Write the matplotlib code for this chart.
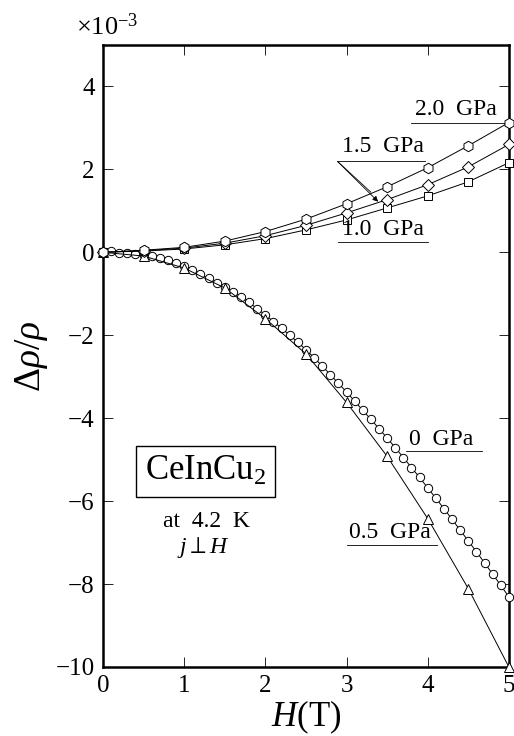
import matplotlib
matplotlib.use("Agg")
import matplotlib.pyplot as plt
import numpy as np

plt.rcParams['font.family'] = ['Liberation Serif', 'DejaVu Serif']
plt.rcParams['mathtext.fontset'] = 'custom'
plt.rcParams['mathtext.rm'] = 'Liberation Serif'
plt.rcParams['mathtext.it'] = 'Liberation Serif:italic'
plt.rcParams['mathtext.bf'] = 'Liberation Serif:bold'

# ---- data (units of 1e-3) ----
H_coarse = [0, 0.5, 1.0, 1.5, 2.0, 2.5, 3.0, 3.5, 4.0, 4.5, 5.0]
p20 = [0, 0.05, 0.12, 0.27, 0.50, 0.80, 1.17, 1.58, 2.04, 2.57, 3.13]
p15 = [0, 0.04, 0.10, 0.22, 0.40, 0.65, 0.95, 1.27, 1.63, 2.06, 2.60]
p10 = [0, 0.03, 0.08, 0.18, 0.33, 0.54, 0.78, 1.07, 1.36, 1.70, 2.16]
p05 = [0, -0.09, -0.38, -0.86, -1.60, -2.45, -3.62, -4.92, -6.42, -8.11, -10.0]

H_fine = [0.0, 0.1, 0.2, 0.3, 0.4, 0.5, 0.6, 0.7, 0.8, 0.9,
          1.0, 1.1, 1.2, 1.3, 1.4, 1.5, 1.6, 1.7, 1.8, 1.9,
          2.0, 2.1, 2.2, 2.3, 2.4, 2.5, 2.6, 2.7, 2.8, 2.9,
          3.0, 3.1, 3.2, 3.3, 3.4, 3.5, 3.6, 3.7, 3.8, 3.9,
          4.0, 4.1, 4.2, 4.3, 4.4, 4.5, 4.6, 4.7, 4.8, 4.9, 5.0]
p00 = [0.00, 0.02, -0.01, -0.02, -0.04, -0.06, -0.10, -0.14, -0.19, -0.26,
       -0.34, -0.43, -0.53, -0.63, -0.73, -0.84, -0.95, -1.07, -1.21, -1.36,
       -1.51, -1.67, -1.83, -2.00, -2.17, -2.35, -2.54, -2.74, -2.95, -3.16,
       -3.37, -3.59, -3.81, -4.03, -4.25, -4.48, -4.71, -4.95, -5.19, -5.43,
       -5.68, -5.93, -6.18, -6.44, -6.70, -6.96, -7.22, -7.49, -7.76, -8.03, -8.31]

xticks = [0, 1, 2, 3, 4, 5]
yticks = [-10, -8, -6, -4, -2, 0, 2, 4]

fig = plt.figure(figsize=(5.14, 7.36), dpi=100)
ax = fig.add_axes([0.2004, 0.0938, 0.7896, 0.8451])

lw = 0.7
ax.plot(H_fine, p00, '-', color='black', lw=lw, marker='o', ms=6,
        mfc='white', mec='black', mew=0.7, zorder=3, clip_on=False)
ax.plot(H_coarse, p05, '-', color='black', lw=lw, marker='^', ms=6.5,
        mfc='white', mec='black', mew=0.7, zorder=3, clip_on=False)
ax.plot(H_coarse, p10, '-', color='black', lw=lw, marker='s', ms=6,
        mfc='white', mec='black', mew=0.7, zorder=3, clip_on=False)
ax.plot(H_coarse, p15, '-', color='black', lw=lw, marker='D', ms=6,
        mfc='white', mec='black', mew=0.7, zorder=3, clip_on=False)
ax.plot(H_coarse, p20, '-', color='black', lw=lw, marker='h', ms=7.5,
        mfc='white', mec='black', mew=0.7, zorder=4, clip_on=False)

ax.set_xlim(0, 5)
ax.set_ylim(-10, 5)
ax.set_xticks(xticks)
ax.set_yticks(yticks)
ax.tick_params(direction='in', length=7, width=0.6, top=True, right=True,
               labelsize=18, pad=6)
for s in ax.spines.values():
    s.set_linewidth(1.8)

ax.set_xlabel(r'$H$(T)', fontsize=25, labelpad=1)
ax.set_ylabel(r'$\Delta\rho/\rho$', fontsize=27, labelpad=4)

fig.text(76 / 514, 1 - 27 / 736, r'$\times$10$^{-3}$', fontsize=19,
         ha='left', va='center')

# labels with underline leaders
fs = 17
ax.text(4.35, 3.45, '2.0  GPa', fontsize=fs, ha='center', va='center')
ax.plot([3.80, 5.0], [3.13, 3.13], color='black', lw=0.6)

ax.text(3.45, 2.55, '1.5  GPa', fontsize=fs, ha='center', va='center')
ax.plot([2.89, 3.97], [2.19, 2.19], color='black', lw=0.6)
ax.annotate('', xy=(3.39, 1.22), xytext=(2.89, 2.19),
            arrowprops=dict(arrowstyle='-|>', color='black', lw=0.6,
                            mutation_scale=8, shrinkA=0, shrinkB=0))
ax.plot([2.89, 3.30], [2.19, 1.45], color='black', lw=0.6)

ax.text(3.45, 0.55, '1.0  GPa', fontsize=fs, ha='center', va='center')
ax.plot([2.89, 4.0], [0.25, 0.25], color='black', lw=0.6)

ax.text(4.16, -4.52, '0  GPa', fontsize=fs, ha='center', va='center')
ax.plot([3.73, 4.67], [-4.78, -4.78], color='black', lw=0.6)

ax.text(3.53, -6.75, '0.5  GPa', fontsize=fs, ha='center', va='center')
ax.plot([3.0, 4.11], [-7.05, -7.05], color='black', lw=0.6)

ax.text(1.26, -5.29, r'CeInCu$_2$', fontsize=25, ha='center', va='center',
        bbox=dict(boxstyle='square,pad=0.25', fc='white', ec='black', lw=1.0))
ax.text(1.28, -6.48, 'at  4.2  K', fontsize=17, ha='center', va='center')
ax.text(1.24, -7.12, r'$j\perp H$', fontsize=17, ha='center', va='center')

fig.savefig('out.png', dpi=100)
